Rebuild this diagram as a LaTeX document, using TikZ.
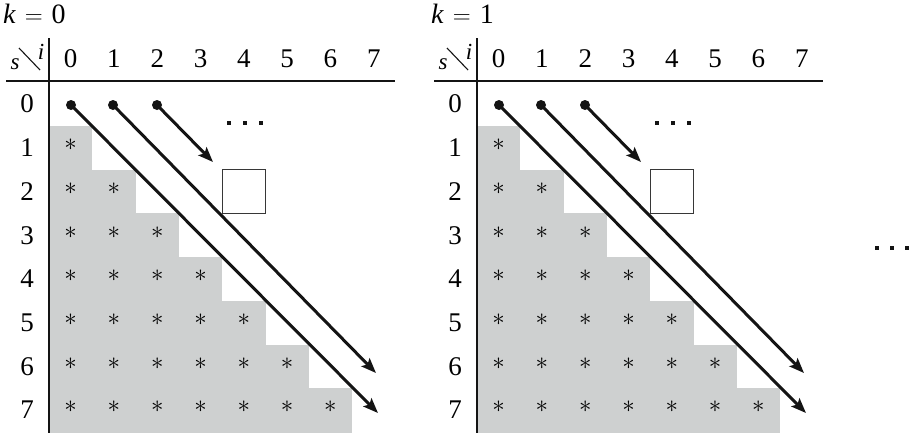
\documentclass[tikz,border=0pt]{standalone}
\usepackage{fontspec}
\setmainfont{Liberation Serif}
\usetikzlibrary{arrows.meta}
\definecolor{cellgray}{RGB}{206,208,208}
\definecolor{ink}{RGB}{20,20,20}
\begin{document}
\begin{tikzpicture}[x=1pt,y=-1pt,
  lab/.style={font=\fontsize{27}{30}\selectfont, inner sep=0pt, outer sep=0pt},
  titlelab/.style={font=\fontsize{28}{30}\selectfont, inner sep=0pt, outer sep=0pt},
  corner/.style={font=\fontsize{23}{26}\selectfont, inner sep=0pt},
  star/.style={font=\fontsize{23}{26}\selectfont, inner sep=0pt},
  vrule/.style={line width=1.4pt, draw=ink},
  hrule/.style={line width=1.1pt, draw=ink},
  dotnode/.style={circle, fill=ink, inner sep=0pt, minimum size=10pt},
  arr/.style={line width=3pt, draw=ink, -{Stealth[length=15pt,width=11.5pt,inset=3pt]}},
  boxnode/.style={draw=ink!85, line width=1.4pt, inner sep=0pt, outer sep=0pt, minimum width=43.3pt, minimum height=43.7pt},
  ell/.style={rectangle, fill=ink, inner sep=0pt, minimum size=4pt}]
\useasboundingbox (0,0) rectangle (917,434);
\foreach \p/\dx/\kv in {L/0/0,R/428/1}{
 \begin{scope}[xshift=\dx pt]
  % gray staircase
  \foreach \r in {1,...,7}{
    \fill[cellgray] (49,{82.3+43.7*\r}) rectangle ({49+43.3*\r},{82.3+43.7*(\r+1)+0.6});
  }
  % stars
  \foreach \r in {1,...,7}{
    \pgfmathtruncatemacro\last{\r-1}
    \foreach \c in {0,...,\last}{
      \node[star] (\p-s\r\c) at ({49+43.3*(\c+0.5)},{82.3+43.7*(\r+0.5)-3}) {$*$};
    }
  }
  % rules
  \draw[vrule] (49,38) -- (49,433);
  \draw[hrule] (6,81) -- (395,81);
  % title
  \node[titlelab, anchor=base west] (\p-t) at (3,23) {\textit{k}\hspace{9pt}$=$\hspace{9pt}\kv};
  % headers
  \foreach \c in {0,...,7}{
    \node[lab] (\p-h\c) at ({49+43.3*(\c+0.5)},59) {\c};
  }
  \foreach \r in {0,...,7}{
    \node[lab] (\p-r\r) at (27,{82.3+43.7*(\r+0.5)}) {\r};
  }
  % corner
  \draw[line width=1.1pt, draw=ink] (19,48) -- (40,70);
  \node[corner] (\p-cs) at (15,64) {\textit{s}};
  \node[corner] (\p-ci) at (41,52) {\textit{i}};
  % square
  \node[boxnode] (\p-sq) at ({49+43.3*4.5},{82.3+43.7*2.5}) {};
  % ellipsis
  \node[ell] (\p-e1) at (229,123) {};
  \node[ell] (\p-e2) at (245,123) {};
  \node[ell] (\p-e3) at (261,123) {};
  % dots and arrows
  \node[dotnode] (\p-d0) at (71,105) {};
  \node[dotnode] (\p-d1) at (113,105) {};
  \node[dotnode] (\p-d2) at (157,105) {};
  \coordinate (\p-a0) at (378,413);
  \coordinate (\p-a1) at (376,373);
  \coordinate (\p-a2) at (213,162);
  \draw[arr] (\p-d0.center) -- (\p-a0);
  \draw[arr] (\p-d1.center) -- (\p-a1);
  \draw[arr] (\p-d2.center) -- (\p-a2);
 \end{scope}
}
\node[ell] (m1) at (877,248) {};
\node[ell] (m2) at (892,248) {};
\node[ell] (m3) at (907,248) {};
\end{tikzpicture}
\end{document}
